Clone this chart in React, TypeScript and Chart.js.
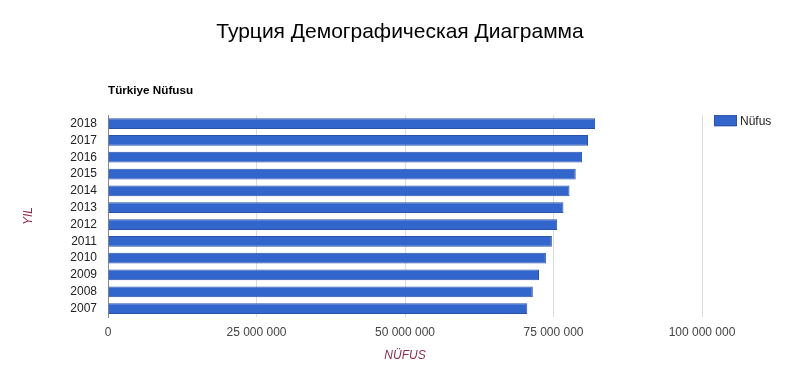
import React, { useEffect, useRef } from "react";
import { Chart, registerables } from "chart.js";

Chart.register(...registerables);

const years: string[] = ["2007", "2008", "2009", "2010", "2011", "2012", "2013", "2014", "2015", "2016", "2017", "2018"];
const population: number[] = [70586256, 71517100, 72561312, 73722988, 74724269, 75627384, 76667864, 77695904, 78741053, 79814871, 80810525, 82003882];
const xTicks: number[] = [0, 25000000, 50000000, 75000000, 100000000];

const chartTitle = "Турция Демографическая Диаграмма";
const subTitle = "Türkiye Nüfusu";
const seriesLabel = "Nüfus";
const xTitle = "NÜFUS";
const yTitle = "YIL";

const FONT = "'Liberation Sans', Arial, sans-serif";
const BAR = "#3366cc";
const BAR_EDGE = "#2a52a6";
const AXIS_RED = "#8e2f4b";

function fmt(v: number): string {
  return String(Math.round(v)).replace(/\B(?=(\d{3})+(?!\d))/g, " ");
}

const extrasPlugin = {
  id: "extras",
  afterDraw(chart: any) {
    const { ctx, chartArea } = chart;
    ctx.save();
    // subtitle at chart-area left
    ctx.font = `bold 11.7px ${FONT}`;
    ctx.fillStyle = "#000";
    ctx.textAlign = "left";
    ctx.textBaseline = "middle";
    ctx.fillText(subTitle, chartArea.left, 91);
    // legend
    const lx = chartArea.right + 12;
    const ly = chartArea.top;
    ctx.fillStyle = BAR;
    ctx.fillRect(lx, ly, 23, 11);
    ctx.strokeStyle = BAR_EDGE;
    ctx.lineWidth = 1;
    ctx.strokeRect(lx + 0.5, ly + 0.5, 22, 10);
    ctx.font = `12px ${FONT}`;
    ctx.fillStyle = "#222";
    ctx.fillText(seriesLabel, lx + 26, ly + 6);
    ctx.restore();
  },
};

export default function App() {
  const ref = useRef<HTMLCanvasElement | null>(null);
  useEffect(() => {
    if (!ref.current) return;
    const chart = new Chart(ref.current, {
      type: "bar",
      data: {
        labels: years,
        datasets: [
          {
            label: seriesLabel,
            data: population,
            backgroundColor: BAR,
            borderColor: BAR_EDGE,
            borderWidth: 1,
            barPercentage: 0.64,
            categoryPercentage: 1,
            xAxisID: "x",
            yAxisID: "y",
          },
        ],
      },
      options: {
        indexAxis: "y",
        animation: false,
        responsive: false,
        maintainAspectRatio: false,
        layout: { padding: { left: 0, right: 0, top: 0, bottom: 0 } },
        plugins: {
          legend: { display: false },
          tooltip: { enabled: false },
          title: {
            display: true,
            text: chartTitle,
            color: "#000",
            font: { family: FONT, size: 21, weight: "normal" },
            padding: { top: 20, bottom: 70 },
          },
        },
        scales: {
          x: {
            min: 0,
            max: 100000000,
            afterBuildTicks: (scale: any) => {
              scale.ticks = xTicks.map((v) => ({ value: v }));
            },
            afterFit: (scale: any) => {
              scale.height = 65;
            },
            grid: { color: "#dcdcdc", drawTicks: false, lineWidth: 1 },
            border: { display: false },
            ticks: {
              color: "#444",
              font: { family: FONT, size: 12 },
              padding: 8,
              maxRotation: 0,
              callback: (v: any) => fmt(Number(v)),
            },
            title: {
              display: true,
              text: xTitle,
              color: AXIS_RED,
              font: { family: FONT, size: 12, style: "italic" },
              padding: { top: 0, bottom: 19 },
            },
          },
          y: {
            reverse: true,
            afterFit: (scale: any) => {
              scale.width = 108;
            },
            grid: { display: false, drawTicks: false },
            border: { display: true, color: "#888", width: 1 },
            ticks: {
              color: "#222",
              font: { family: FONT, size: 12 },
              padding: 11,
              autoSkip: false,
            },
            title: {
              display: true,
              text: yTitle,
              color: AXIS_RED,
              font: { family: FONT, size: 12, style: "italic" },
              padding: { top: 21, bottom: 0 },
            },
          },
          legendSpace: {
            type: "linear",
            position: "right",
            display: true,
            afterFit: (scale: any) => {
              scale.width = 98;
            },
            grid: { display: false, drawTicks: false },
            border: { display: false },
            ticks: { display: false },
          },
        },
      },
      plugins: [extrasPlugin],
    });
    return () => chart.destroy();
  }, []);
  return (
    <div style={{ position: "fixed", left: 0, top: 0, width: 800, height: 382, background: "#fff" }}>
      <canvas ref={ref} width={800} height={382} />
    </div>
  );
}
